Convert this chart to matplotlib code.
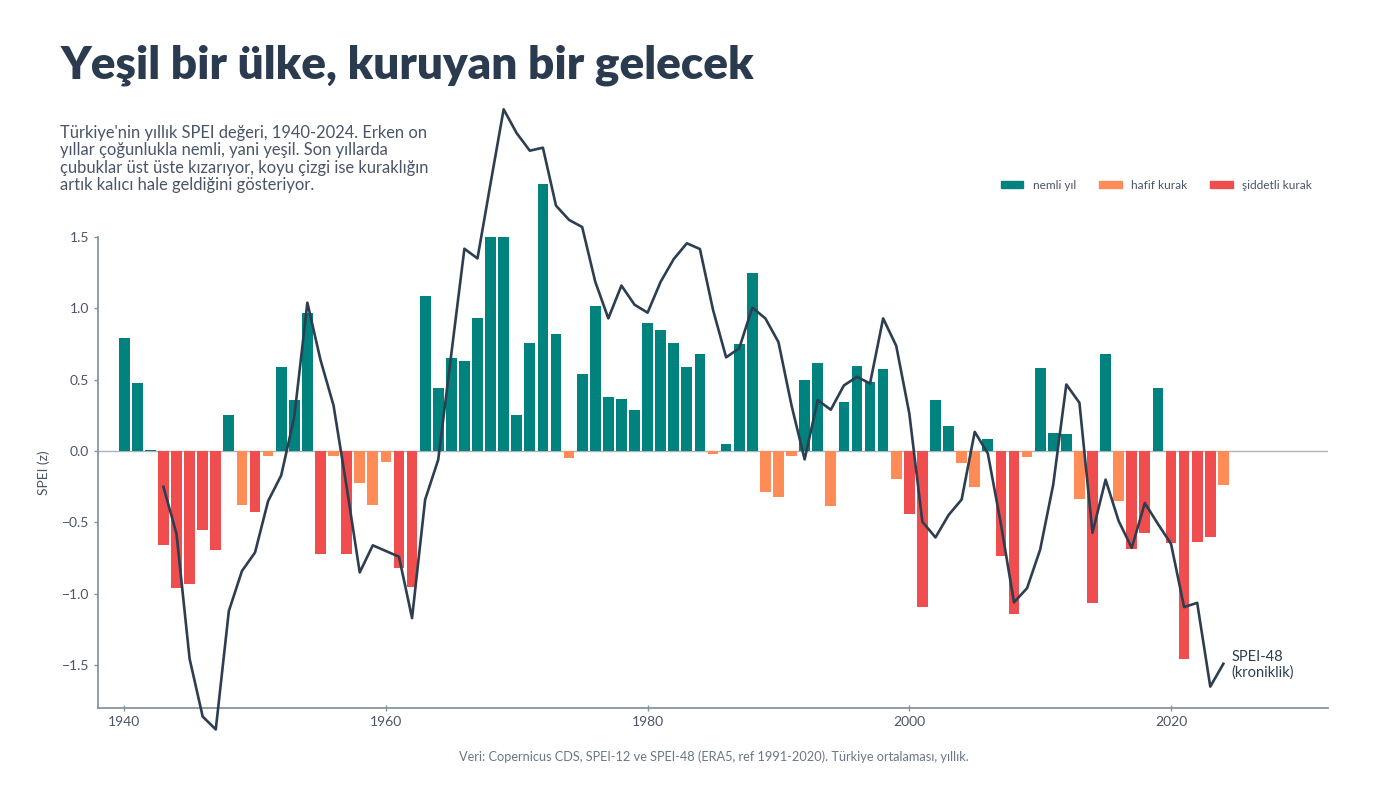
import numpy as np
import matplotlib
matplotlib.use("Agg")
import matplotlib.pyplot as plt
from matplotlib.patches import Patch

plt.rcParams["font.family"] = ["Lato", "DejaVu Sans"]
plt.rcParams["axes.unicode_minus"] = True

# ----- Data -----
years = list(range(1940, 2025))

spei12 = [
    0.79, 0.48, 0.01, -0.66, -0.96, -0.93, -0.55, -0.69, 0.255, -0.38,   # 1940-49
    -0.425, -0.035, 0.59, 0.36, 0.97, -0.72, -0.035, -0.72, -0.22, -0.38,  # 1950-59
    -0.077, -0.82, -0.95, 1.09, 0.44, 0.654, 0.63, 0.93, 1.50, 1.50,       # 1960-69
    0.255, 0.76, 1.87, 0.82, -0.05, 0.54, 1.014, 0.376, 0.364, 0.287,      # 1970-79
    0.897, 0.85, 0.757, 0.589, 0.68, -0.02, 0.05, 0.75, 1.25, -0.285,      # 1980-89
    -0.32, -0.035, 0.495, 0.617, -0.386, 0.343, 0.598, 0.484, 0.575, -0.194,  # 1990-99
    -0.44, -1.09, 0.36, 0.175, -0.082, -0.25, 0.086, -0.736, -1.14, -0.044,   # 2000-09
    0.582, 0.126, 0.121, -0.334, -1.065, 0.68, -0.35, -0.685, -0.572, 0.44,   # 2010-19
    -0.647, -1.458, -0.64, -0.605, -0.24,                                     # 2020-24
]

spei48_years = list(range(1943, 2025))
spei48 = [
    -0.25, -0.58, -1.455, -1.86, -1.95, -1.12, -0.84,                       # 1943-49
    -0.71, -0.35, -0.17, 0.24, 1.04, 0.64, 0.32, -0.25, -0.85, -0.66,      # 1950-59
    -0.70, -0.74, -1.17, -0.34, -0.06, 0.68, 1.418, 1.35, 1.876, 2.395,    # 1960-69
    2.227, 2.105, 2.126, 1.72, 1.62, 1.57, 1.187, 0.93, 1.16, 1.026,       # 1970-79
    0.97, 1.187, 1.346, 1.456, 1.416, 0.99, 0.657, 0.72, 1.005, 0.93,      # 1980-89
    0.764, 0.32, -0.058, 0.357, 0.29, 0.46, 0.52, 0.474, 0.93, 0.738,      # 1990-99
    0.264, -0.495, -0.605, -0.448, -0.339, 0.135, -0.016, -0.51, -1.06, -0.96,  # 2000-09
    -0.69, -0.234, 0.467, 0.339, -0.572, -0.2, -0.49, -0.678, -0.364, -0.51,    # 2010-19
    -0.65, -1.093, -1.063, -1.65, -1.49,                                        # 2020-24
]

legend_labels = ["nemli yıl", "hafif kurak", "şiddetli kurak"]

# ----- Styling -----
TEAL = "#00827f"
ORANGE = "#ff8c57"
RED = "#f04e4e"
LINE = "#2d3e50"
TEXT = "#4a5568"
AXIS = "#8794a3"
SEVERE = -0.4

colors = [TEAL if v >= 0 else (ORANGE if v > SEVERE else RED) for v in spei12]

fig = plt.figure(figsize=(14, 7.88), dpi=100)
ax = fig.add_axes([0.07, 0.1015, 0.8786, 0.5977])

ax.bar(years, spei12, width=0.82, color=colors, clip_on=False, zorder=2)
ax.axhline(0, color="#aab3bd", linewidth=1.0, zorder=1)
ax.plot(spei48_years, spei48, color=LINE, linewidth=1.9, clip_on=False, zorder=3)

ax.annotate("SPEI-48\n(kroniklik)", xy=(spei48_years[-1], spei48[-1]),
            xytext=(6, -1), textcoords="offset points", ha="left", va="center",
            fontsize=10.5, color=LINE, linespacing=1.1)

ax.set_xlim(1938, 2032)
ax.set_ylim(-1.8, 1.5)
ax.set_xticks([1940, 1960, 1980, 2000, 2020])
ax.set_yticks([-1.5, -1.0, -0.5, 0.0, 0.5, 1.0, 1.5])
ax.set_yticklabels([f"{t:.1f}".replace("-", "\u2212") for t in ax.get_yticks()])
ax.tick_params(axis="both", colors=AXIS, labelcolor=TEXT, labelsize=10,
               length=3, width=1)
ax.tick_params(axis="x", direction="inout", length=4)
ax.set_ylabel("SPEI (z)", color=TEXT, fontsize=10, labelpad=8)

for side in ["top", "right"]:
    ax.spines[side].set_visible(False)
for side in ["left", "bottom"]:
    ax.spines[side].set_color(AXIS)
    ax.spines[side].set_linewidth(1.3)

# legend above the plot, right side
handles = [Patch(color=c) for c in [TEAL, ORANGE, RED]]
fig.legend(handles, legend_labels, ncol=3, loc="center right",
           bbox_to_anchor=(0.945, 0.765), frameon=False, fontsize=8.6,
           labelcolor=TEXT, handlelength=1.9, handleheight=0.6,
           handletextpad=0.8, columnspacing=1.9)

# titles and notes
fig.text(0.043, 0.917, "Yeşil bir ülke, kuruyan bir gelecek", fontsize=33,
         fontweight="heavy", color="#2a3b4f", ha="left", va="center")
fig.text(0.043, 0.842,
         "Türkiye'nin yıllık SPEI değeri, 1940-2024. Erken on\n"
         "yıllar çoğunlukla nemli, yani yeşil. Son yıllarda\n"
         "çubuklar üst üste kızarıyor, koyu çizgi ise kuraklığın\n"
         "artık kalıcı hale geldiğini gösteriyor.",
         fontsize=11.9, color=TEXT, ha="left", va="top", linespacing=1.12)
fig.text(0.51, 0.04,
         "Veri: Copernicus CDS, SPEI-12 ve SPEI-48 (ERA5, ref 1991-2020). "
         "Türkiye ortalaması, yıllık.",
         fontsize=9.2, color="#6b7785", ha="center", va="center")

fig.savefig("out.png", dpi=100)
